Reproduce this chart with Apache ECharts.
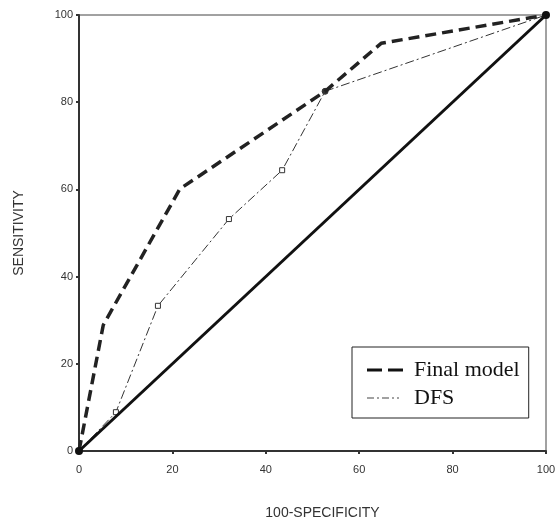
<!DOCTYPE html>
<html><head><meta charset="utf-8">
<script src="https://cdn.jsdelivr.net/npm/echarts@6/dist/echarts.min.js"></script>
<style>html,body{margin:0;padding:0;background:#fff}#c{width:555px;height:518px}</style>
</head><body><div id="c"></div>
<script>
const xTicks = [0, 20, 40, 60, 80, 100];
const finalModelX = [0, 5.2, 21.6, 52.7, 64.7, 100];
const finalModelY = [0, 28.9, 60.1, 82.5, 93.5, 100];
const dfsX = [0, 7.9, 16.9, 32.1, 43.5, 52.7, 100];
const dfsY = [0, 8.9, 33.3, 53.2, 64.4, 82.5, 100];
const diagX = [0, 100];
const diagY = [0, 100];

const zip = (a, b) => a.map((v, i) => [v, b[i]]);
const chart = echarts.init(document.getElementById('c'));
const axisCommon = {
  type: 'value', min: 0, max: 100, interval: 20,
  axisLine: { show: true, lineStyle: { color: '#333', width: 2 } },
  axisTick: { show: true, length: 3, lineStyle: { color: '#333', width: 2 } },
  splitLine: { show: false },
  axisLabel: { color: '#333', fontSize: 11, fontFamily: 'Liberation Sans, Arial' }
};
const dfsData = zip(dfsX, dfsY).map((p, i, arr) => {
  if (i === 0 || i === arr.length - 1) return { value: p, symbol: 'none' };
  if (i === arr.length - 2) return { value: p, symbol: 'circle', symbolSize: 6, itemStyle: { color: '#333' } };
  return { value: p };
});
chart.setOption({
  animation: false,
  grid: { left: 79, right: 9, top: 15, bottom: 67, show: true, borderColor: '#444', borderWidth: 1,
          containLabel: false, outerBoundsMode: 'none' },
  xAxis: Object.assign({}, axisCommon, {
    name: '100-SPECIFICITY', nameLocation: 'middle', nameGap: 55,
    nameTextStyle: { color: '#333', fontSize: 14, fontFamily: 'Liberation Sans, Arial', padding: [0, 0, 0, 20] },
    axisLabel: Object.assign({}, axisCommon.axisLabel, { margin: 13 })
  }),
  yAxis: Object.assign({}, axisCommon, {
    name: 'SENSITIVITY', nameLocation: 'middle', nameGap: 53,
    nameTextStyle: { color: '#333', fontSize: 14, fontFamily: 'Liberation Sans, Arial' },
    axisLabel: Object.assign({}, axisCommon.axisLabel, { margin: 6 })
  }),
  legend: {
    data: [
      { name: 'Final model', icon: 'path://M0,0h15v3h-15z M21,0h15v3h-15z M42,0h0.01v0.01h-0.01z', itemStyle: { color: '#111', borderWidth: 0 } },
      { name: 'DFS', icon: 'path://M0,0h7v1h-7z M10,0h2v1h-2z M15,0h7v1h-7z M25,0h2v1h-2z M30,0h2v1h-2z M42,0h0.01v0.01h-0.01z', itemStyle: { color: '#444', borderWidth: 0 } }
    ],
    orient: 'vertical', left: 352, top: 347,
    padding: [12, 9, 9, 15], itemGap: 6, itemWidth: 42, itemHeight: 22,
    borderColor: '#222', borderWidth: 1, backgroundColor: '#fff',
    textStyle: { color: '#111', fontSize: 22, fontFamily: 'Liberation Serif, Times New Roman' }
  },
  series: [
    { name: 'Diagonal', type: 'line', data: zip(diagX, diagY), symbol: 'circle', symbolSize: 8,
      itemStyle: { color: '#111' }, lineStyle: { color: '#111', width: 3 }, z: 4 },
    { name: 'Final model', type: 'line', data: zip(finalModelX, finalModelY), symbol: 'none',
      itemStyle: { color: '#222' }, lineStyle: { color: '#222', width: 3.5, type: [11, 6] }, z: 3 },
    { name: 'DFS', type: 'line', data: dfsData, symbol: 'rect', symbolSize: 5,
      showAllSymbol: true,
      itemStyle: { color: '#fff', borderColor: '#333', borderWidth: 1 },
      lineStyle: { color: '#333', width: 1, type: [9, 3, 2, 3] }, z: 2 }
  ]
});
</script></body></html>
